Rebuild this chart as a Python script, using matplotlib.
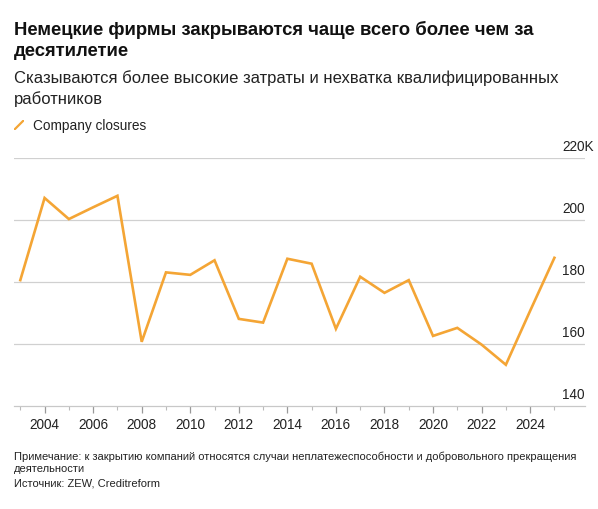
import matplotlib
matplotlib.use("Agg")
import matplotlib.pyplot as plt
from matplotlib.ticker import FixedLocator

plt.rcParams["font.family"] = ["Liberation Sans", "DejaVu Sans"]

years = list(range(2003, 2026))
closures = [180.7, 207.2, 200.4, 204.2, 207.9, 160.8, 183.2, 182.4, 187.1, 168.2,
            167.0, 187.6, 186.0, 165.0, 181.8, 176.6, 180.7, 162.7, 165.3, 159.9,
            153.4, 170.8, 187.9]
y_ticks = [140, 160, 180, 200, 220]
y_labels = ["140", "160", "180", "200", "220K"]
x_ticks = list(range(2004, 2025, 2))

title_lines = ["Немецкие фирмы закрываются чаще всего более чем за", "десятилетие"]
subtitle_lines = ["Сказываются более высокие затраты и нехватка квалифицированных", "работников"]
legend_label = "Company closures"
note_lines = ["Примечание: к закрытию компаний относятся случаи неплатежеспособности и добровольного прекращения",
              "деятельности"]
source = "Источник: ZEW, Creditreform"

ORANGE = "#f4a535"
GRID = "#d0d0d0"
W, H = 598, 510


def fy(px):
    return 1 - px / H


fig = plt.figure(figsize=(W / 100, H / 100), dpi=100)
ax = fig.add_axes([14 / W, fy(407.3), (585 - 14) / W, (407.3 - 159.3) / H])

ax.plot(years, closures, color=ORANGE, linewidth=1.9, solid_joinstyle="miter")
ax.set_xlim(2002.74, 2026.26)
ax.set_ylim(140, 220)

for v in y_ticks[1:]:
    ax.axhline(v, color=GRID, linewidth=0.9, zorder=0)
for s in ["top", "right", "left"]:
    ax.spines[s].set_visible(False)
ax.spines["bottom"].set_color("#c8c8c8")
ax.spines["bottom"].set_linewidth(0.9)

ax.set_yticks([])
for v, lab in zip(y_ticks, y_labels):
    ax.annotate(lab, xy=(1, v), xycoords=("axes fraction", "data"),
                xytext=(-16.5, 3.5), textcoords="offset points",
                ha="left", va="bottom", fontsize=9.8, color="#222222")

ax.set_xticks(x_ticks)
ax.set_xticklabels([str(x) for x in x_ticks])
ax.xaxis.set_minor_locator(FixedLocator(years))
ax.tick_params(axis="x", which="major", length=5, width=0.9, color="#999999",
               labelsize=9.8, labelcolor="#222222", pad=3)
ax.tick_params(axis="x", which="minor", length=3, width=0.8, color="#bbbbbb")

for i, line in enumerate(title_lines):
    fig.text(14 / W, fy(29.5 + 22 * i), line, fontsize=13.35, fontweight="bold",
             va="center", ha="left", color="#111111")
for i, line in enumerate(subtitle_lines):
    fig.text(14 / W, fy(78 + 21.5 * i), line, fontsize=12, va="center", ha="left",
             color="#222222")

ax_leg = fig.add_axes([14 / W, fy(131), 10 / W, 10 / H])
ax_leg.plot([0, 1], [0, 1], color=ORANGE, linewidth=1.6)
ax_leg.set_xlim(-0.1, 1.1)
ax_leg.set_ylim(-0.1, 1.1)
ax_leg.axis("off")
fig.text(33 / W, fy(126), legend_label, fontsize=9.8, va="center",
         ha="left", color="#222222")

for i, line in enumerate(note_lines):
    fig.text(14 / W, fy(456.5 + 12.5 * i), line, fontsize=8.0, va="center", ha="left",
             color="#222222")
fig.text(14 / W, fy(484), source, fontsize=8.0, va="center", ha="left", color="#222222")

fig.savefig("out.png", dpi=100)
